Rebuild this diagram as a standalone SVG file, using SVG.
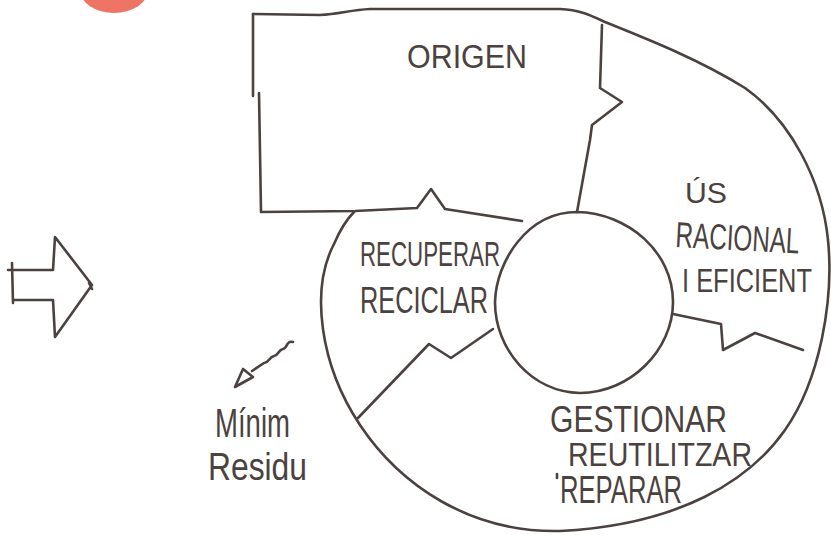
<svg xmlns="http://www.w3.org/2000/svg" width="831" height="535" viewBox="0 0 831 535">
<style>
.ln{fill:none;stroke:#4b4240;stroke-width:2.6;stroke-linecap:round;stroke-linejoin:round}
.tx{font-family:"Liberation Sans","DejaVu Sans",sans-serif;fill:#4b4240;font-weight:normal}
</style>
<rect x="0" y="0" width="831" height="535" fill="#ffffff"/>
<ellipse cx="114" cy="-10" rx="34" ry="23" fill="#ee7466"/>

<g id="outer-spiral">
<path class="ln" d="M 253,14 L 320,15 C 340,14 350,10 370,9 L 560,9 C 580,10 590,15 605,22 C 650,40 700,60 745,88 C 790,120 822,180 828,240 C 834,300 820,380 785,430 C 750,480 680,525 560,531 C 470,533 400,485 360,425 C 320,365 310,290 334,244 C 340,230 346,220 354,212"/>
</g>

<g id="origen">
<path class="ln" d="M 253,14 L 253,96 M 259,93 L 261,212 L 355,211 L 417,208 L 431,189 L 445,209 L 522,221"/>
<path class="ln" d="M 602,25 L 600,88 L 622,102 L 592,125 L 590,140 L 577,212"/>
<text class="tx" x="407" y="68" font-size="34" textLength="120" lengthAdjust="spacingAndGlyphs">ORIGEN</text>
</g>

<g id="centre">
<path class="ln" d="M 577,212 C 628,213 673,252 673,302 C 673,350 630,393 580,393 C 532,392 495,350 495,302 C 496,262 527,212 577,212 Z"/>
</g>

<g id="us-racional">
<text class="tx" x="685" y="203" font-size="29" textLength="42" lengthAdjust="spacingAndGlyphs">ÚS</text>
<text class="tx" x="675" y="247" font-size="36" textLength="124" lengthAdjust="spacingAndGlyphs" transform="rotate(3 675 247)">RACIONAL</text>
<text class="tx" x="682" y="292" font-size="33" textLength="130" lengthAdjust="spacingAndGlyphs">I EFICIENT</text>
</g>

<g id="recuperar">
<text class="tx" x="360" y="266" font-size="35" textLength="140" lengthAdjust="spacingAndGlyphs">RECUPERAR</text>
<text class="tx" x="360" y="313" font-size="36" textLength="128" lengthAdjust="spacingAndGlyphs">RECICLAR</text>
</g>

<g id="gestionar">
<text class="tx" x="550" y="432" font-size="36" textLength="177" lengthAdjust="spacingAndGlyphs">GESTIONAR</text>
<text class="tx" x="568" y="466" font-size="33" textLength="184" lengthAdjust="spacingAndGlyphs">REUTILITZAR</text>
<path class="ln" d="M 557,474 L 557,478"/>
<text class="tx" x="560" y="503" font-size="38" textLength="122" lengthAdjust="spacingAndGlyphs">REPARAR</text>
</g>

<g id="minim-residu">
<text class="tx" x="215" y="437" font-size="40" textLength="75" lengthAdjust="spacingAndGlyphs">Mínim</text>
<text class="tx" x="208" y="480" font-size="39" textLength="99" lengthAdjust="spacingAndGlyphs">Residu</text>
</g>

<g id="input-arrow">
<path class="ln" d="M 8,270 L 53,270 L 55,237 L 92,285 L 55,337 L 53,300 L 13,300 M 12,263 L 13,303 M 89,283 L 92,289"/>
</g>

<g id="connectors">
<path class="ln" d="M 673,314 L 721,324 L 723,350 L 755,333 L 803,350"/>
<path class="ln" d="M 493,329 L 451,358 L 429,344 L 358,418"/>
<path class="ln" stroke-width="3" d="M 293,342 C 286,340 288,348 283,349 C 278,350 279,355 274,356 C 269,357 270,362 264,363 L 252,371"/>
<path class="ln" d="M 243,369 L 235,387 L 253,377 Z"/>
</g>
</svg>
